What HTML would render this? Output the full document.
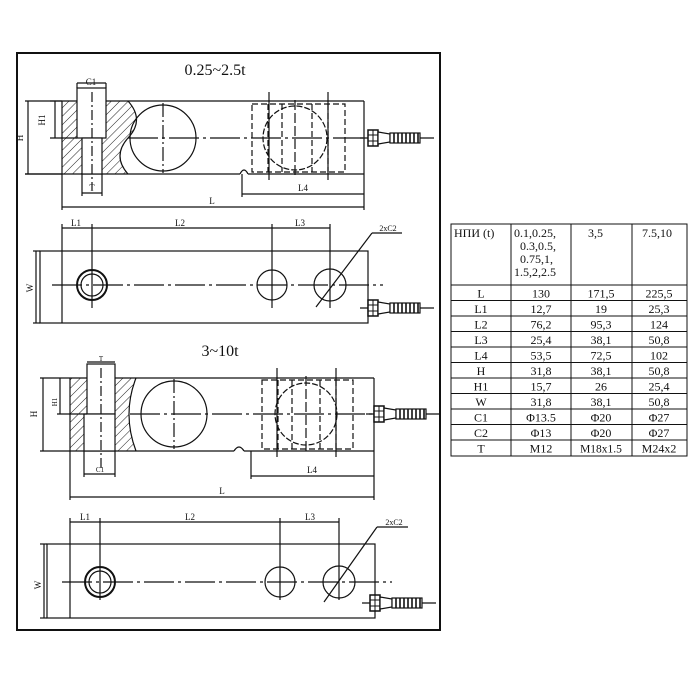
<!DOCTYPE html>
<html><head><meta charset="utf-8"><style>
html,body{margin:0;padding:0;background:#fff}
svg{display:block}
text{font-family:"Liberation Serif",serif;fill:#111}
</style></head><body>
<svg width="700" height="700" viewBox="0 0 700 700" xmlns="http://www.w3.org/2000/svg">
<defs>
<pattern id="h" width="6" height="6" patternUnits="userSpaceOnUse" patternTransform="rotate(45)">
<line x1="0" y1="0" x2="0" y2="6" stroke="#222" stroke-width="1"/>
</pattern>
<g id="conn">
<line x1="-8" y1="0" x2="66" y2="0" stroke="#111" stroke-width="1.2"/>
<rect x="0" y="-8" width="10" height="16" fill="#fff" stroke="#111" stroke-width="1.5"/>
<line x1="0" y1="-3" x2="10" y2="-3" stroke="#111"/><line x1="0" y1="3" x2="10" y2="3" stroke="#111"/>
<line x1="5" y1="-8" x2="5" y2="8" stroke="#111"/>
<path d="M10,-6 L22,-4 L22,4 L10,6Z" fill="#fff" stroke="#111" stroke-width="1.2"/>
<rect x="22" y="-5" width="30" height="10" fill="#fff" stroke="#111" stroke-width="1.2"/>
<g stroke="#111" stroke-width="1.6"><line x1="26" y1="-5" x2="26" y2="5"/><line x1="30" y1="-5" x2="30" y2="5"/><line x1="34" y1="-5" x2="34" y2="5"/><line x1="38" y1="-5" x2="38" y2="5"/><line x1="42" y1="-5" x2="42" y2="5"/><line x1="46" y1="-5" x2="46" y2="5"/><line x1="50" y1="-5" x2="50" y2="5"/></g>
</g>
</defs>
<rect x="17" y="53" width="423" height="577" fill="none" stroke="#111" stroke-width="2"/>

<g stroke="#111" stroke-width="1.2" fill="none">
<!-- SECTION 1 side view -->
<text x="215" y="75" font-size="16" text-anchor="middle" stroke="none">0.25~2.5t</text>
<path d="M62,101 H128 Q145,120 128,138 Q112,156 128,174 H62Z" fill="url(#h)" stroke="none"/>
<line x1="25" y1="101" x2="364" y2="101"/>
<line x1="25" y1="174" x2="240" y2="174"/>
<path d="M240,174 q4,-8 8,0"/>
<line x1="248" y1="174" x2="364" y2="174"/>
<line x1="364" y1="101" x2="364" y2="174"/>
<line x1="62" y1="101" x2="62" y2="174"/>
<path d="M128,101 Q145,120 128,138 Q112,156 128,174"/>
<rect x="77" y="88" width="29" height="50" fill="#fff"/>
<rect x="82" y="138" width="20" height="36" fill="#fff"/>
<line x1="82" y1="174" x2="82" y2="196"/><line x1="102" y1="174" x2="102" y2="196"/>
<line x1="77" y1="83" x2="106" y2="83"/><line x1="77" y1="83" x2="77" y2="88"/><line x1="106" y1="83" x2="106" y2="88"/>
<line x1="82" y1="193" x2="102" y2="193"/>
<line x1="92" y1="92" x2="92" y2="190" stroke-dasharray="10,3,2,3"/>
<line x1="55" y1="101" x2="55" y2="138"/><line x1="50" y1="101" x2="62" y2="101"/><line x1="50" y1="138" x2="77" y2="138"/>
<line x1="28" y1="101" x2="28" y2="174"/><line x1="25" y1="174" x2="62" y2="174"/>
<line x1="62" y1="174" x2="62" y2="210"/>
<circle cx="163" cy="138" r="33"/>
<line x1="163" y1="103" x2="163" y2="173" stroke-dasharray="14,3,2,3"/>
<line x1="128" y1="138" x2="364" y2="138" stroke-dasharray="30,4,3,4"/>
<circle cx="295" cy="138" r="32" stroke-dasharray="6,2"/>
<g stroke-dasharray="6,3"><rect x="252" y="104" width="93" height="68"/><line x1="268" y1="104" x2="268" y2="172"/><line x1="282" y1="104" x2="282" y2="172"/><line x1="312" y1="104" x2="312" y2="172"/><line x1="328" y1="104" x2="328" y2="172"/></g>
<line x1="269" y1="92" x2="269" y2="180"/><line x1="328" y1="92" x2="328" y2="180"/>
<line x1="295" y1="100" x2="295" y2="178" stroke-dasharray="10,3"/>
<line x1="242" y1="174" x2="242" y2="197"/><line x1="364" y1="174" x2="364" y2="210"/>
<line x1="242" y1="194" x2="364" y2="194"/>
<line x1="62" y1="207" x2="364" y2="207"/>
<!-- plan view 1 -->
<rect x="40" y="251" width="328" height="72"/>
<line x1="62" y1="224" x2="62" y2="323"/>
<line x1="92" y1="224" x2="92" y2="308"/>
<line x1="272" y1="224" x2="272" y2="308"/>
<line x1="330" y1="224" x2="330" y2="308"/>
<line x1="62" y1="228" x2="330" y2="228"/>
<line x1="33" y1="251" x2="40" y2="251"/><line x1="33" y1="323" x2="40" y2="323"/><line x1="36" y1="251" x2="36" y2="323"/>
<line x1="52" y1="285" x2="383" y2="285" stroke-dasharray="30,4,3,4"/>
<circle cx="92" cy="285" r="15" stroke-width="2"/><circle cx="92" cy="285" r="11"/>
<circle cx="272" cy="285" r="15"/>
<circle cx="330" cy="285" r="16"/>
<line x1="316" y1="307" x2="372" y2="233"/><line x1="372" y1="233" x2="402" y2="233"/>
</g>
<g font-size="9" stroke="none">
<text x="91" y="85" text-anchor="middle">C1</text>
<text x="92" y="191" text-anchor="middle">T</text>
<text x="45" y="120" transform="rotate(-90 45 120)" text-anchor="middle">H1</text>
<text x="23" y="138" transform="rotate(-90 23 138)" text-anchor="middle">H</text>
<text x="303" y="191" text-anchor="middle">L4</text>
<text x="212" y="204" text-anchor="middle">L</text>
<text x="76" y="226" text-anchor="middle">L1</text>
<text x="180" y="226" text-anchor="middle">L2</text>
<text x="300" y="226" text-anchor="middle">L3</text>
<text x="388" y="231" text-anchor="middle" font-size="8">2xC2</text>
<text x="33" y="288" transform="rotate(-90 33 288)" text-anchor="middle">W</text>
</g>
<use href="#conn" x="368" y="138"/>
<use href="#conn" x="368" y="308"/>

<!-- SECTION 2 -->
<g stroke="#111" stroke-width="1.2" fill="none">
<text x="220" y="356" font-size="16" text-anchor="middle" stroke="none">3~10t</text>
<path d="M70,378 H136 Q122,414 136,451 H70Z" fill="url(#h)" stroke="none"/>
<line x1="40" y1="378" x2="374" y2="378"/>
<line x1="40" y1="451" x2="234" y2="451"/>
<path d="M234,451 q5,-8 10,0"/>
<line x1="244" y1="451" x2="374" y2="451"/>
<line x1="374" y1="378" x2="374" y2="451"/>
<line x1="70" y1="378" x2="70" y2="500"/>
<path d="M136,378 Q122,414 136,451"/>
<rect x="87" y="364" width="28" height="50" fill="#fff"/>
<rect x="84" y="414" width="31" height="37" fill="#fff"/>
<line x1="84" y1="451" x2="84" y2="477"/><line x1="115" y1="451" x2="115" y2="477"/>
<line x1="87" y1="362" x2="115" y2="362"/>
<line x1="84" y1="474" x2="115" y2="474"/>
<line x1="101" y1="368" x2="101" y2="470" stroke-dasharray="10,3,2,3"/>
<line x1="60" y1="378" x2="60" y2="414"/><line x1="57" y1="414" x2="87" y2="414"/>
<line x1="43" y1="378" x2="43" y2="451"/>
<circle cx="174" cy="414" r="33"/>
<line x1="174" y1="379" x2="174" y2="449" stroke-dasharray="14,3,2,3"/>
<line x1="130" y1="414" x2="374" y2="414" stroke-dasharray="30,4,3,4"/>
<circle cx="306" cy="414" r="31" stroke-dasharray="6,2"/>
<g stroke-dasharray="6,3"><rect x="262" y="380" width="91" height="69"/><line x1="278" y1="380" x2="278" y2="449"/><line x1="292" y1="380" x2="292" y2="449"/><line x1="320" y1="380" x2="320" y2="449"/><line x1="336" y1="380" x2="336" y2="449"/></g>
<line x1="277" y1="368" x2="277" y2="457"/><line x1="336" y1="368" x2="336" y2="457"/>
<line x1="306" y1="376" x2="306" y2="452" stroke-dasharray="10,3"/>
<line x1="251" y1="451" x2="251" y2="479"/><line x1="374" y1="451" x2="374" y2="500"/>
<line x1="251" y1="476" x2="374" y2="476"/>
<line x1="70" y1="497" x2="374" y2="497"/>
<!-- plan view 2 -->
<rect x="47" y="544" width="328" height="74"/>
<line x1="70" y1="518" x2="70" y2="618"/>
<line x1="100" y1="518" x2="100" y2="600"/>
<line x1="280" y1="518" x2="280" y2="600"/>
<line x1="339" y1="518" x2="339" y2="600"/>
<line x1="70" y1="522" x2="339" y2="522"/>
<line x1="40" y1="544" x2="47" y2="544"/><line x1="40" y1="618" x2="47" y2="618"/><line x1="44" y1="544" x2="44" y2="618"/>
<line x1="62" y1="582" x2="392" y2="582" stroke-dasharray="30,4,3,4"/>
<circle cx="100" cy="582" r="15" stroke-width="2"/><circle cx="100" cy="582" r="11"/>
<circle cx="280" cy="582" r="15"/>
<circle cx="339" cy="582" r="16"/>
<line x1="324" y1="602" x2="377" y2="527"/><line x1="377" y1="527" x2="408" y2="527"/>
</g>
<g font-size="9" stroke="none">
<text x="101" y="361" text-anchor="middle" font-size="7">T</text>
<text x="100" y="472" text-anchor="middle" font-size="7">C1</text>
<text x="57" y="402" transform="rotate(-90 57 402)" text-anchor="middle" font-size="7">H1</text>
<text x="37" y="414" transform="rotate(-90 37 414)" text-anchor="middle">H</text>
<text x="312" y="473" text-anchor="middle">L4</text>
<text x="222" y="494" text-anchor="middle">L</text>
<text x="85" y="520" text-anchor="middle">L1</text>
<text x="190" y="520" text-anchor="middle">L2</text>
<text x="310" y="520" text-anchor="middle">L3</text>
<text x="394" y="525" text-anchor="middle" font-size="8">2xC2</text>
<text x="41" y="585" transform="rotate(-90 41 585)" text-anchor="middle">W</text>
</g>
<use href="#conn" x="374" y="414"/>
<use href="#conn" x="370" y="603"/>

<!-- TABLE -->
<g stroke="#111" stroke-width="1" fill="none">
<rect x="451" y="224" width="236" height="232"/>
<line x1="511" y1="224" x2="511" y2="456"/>
<line x1="571" y1="224" x2="571" y2="456"/>
<line x1="632" y1="224" x2="632" y2="456"/>
<line x1="451" y1="285" x2="687" y2="285"/>
<line x1="451" y1="300.5" x2="687" y2="300.5"/>
<line x1="451" y1="316" x2="687" y2="316"/>
<line x1="451" y1="331.5" x2="687" y2="331.5"/>
<line x1="451" y1="347" x2="687" y2="347"/>
<line x1="451" y1="362.5" x2="687" y2="362.5"/>
<line x1="451" y1="378" x2="687" y2="378"/>
<line x1="451" y1="393.5" x2="687" y2="393.5"/>
<line x1="451" y1="409" x2="687" y2="409"/>
<line x1="451" y1="424.5" x2="687" y2="424.5"/>
<line x1="451" y1="440" x2="687" y2="440"/>
</g>
<g font-size="12" stroke="none">
<text x="454" y="237">НПИ (t)</text>
<text x="514" y="237">0.1,0.25,</text>
<text x="520" y="250">0.3,0.5,</text>
<text x="520" y="263">0.75,1,</text>
<text x="514" y="276">1.5,2,2.5</text>
<text x="588" y="237">3,5</text>
<text x="642" y="237">7.5,10</text>
<g text-anchor="middle">
<text x="481" y="297.5">L</text><text x="541" y="297.5">130</text><text x="601" y="297.5">171,5</text><text x="659" y="297.5">225,5</text>
<text x="481" y="313">L1</text><text x="541" y="313">12,7</text><text x="601" y="313">19</text><text x="659" y="313">25,3</text>
<text x="481" y="328.5">L2</text><text x="541" y="328.5">76,2</text><text x="601" y="328.5">95,3</text><text x="659" y="328.5">124</text>
<text x="481" y="344">L3</text><text x="541" y="344">25,4</text><text x="601" y="344">38,1</text><text x="659" y="344">50,8</text>
<text x="481" y="359.5">L4</text><text x="541" y="359.5">53,5</text><text x="601" y="359.5">72,5</text><text x="659" y="359.5">102</text>
<text x="481" y="375">H</text><text x="541" y="375">31,8</text><text x="601" y="375">38,1</text><text x="659" y="375">50,8</text>
<text x="481" y="390.5">H1</text><text x="541" y="390.5">15,7</text><text x="601" y="390.5">26</text><text x="659" y="390.5">25,4</text>
<text x="481" y="406">W</text><text x="541" y="406">31,8</text><text x="601" y="406">38,1</text><text x="659" y="406">50,8</text>
<text x="481" y="421.5">C1</text><text x="541" y="421.5">Φ13.5</text><text x="601" y="421.5">Φ20</text><text x="659" y="421.5">Φ27</text>
<text x="481" y="437">C2</text><text x="541" y="437">Φ13</text><text x="601" y="437">Φ20</text><text x="659" y="437">Φ27</text>
<text x="481" y="452.5">T</text><text x="541" y="452.5">M12</text><text x="601" y="452.5" font-size="11.5">M18x1.5</text><text x="659" y="452.5">M24x2</text>
</g>
</g>
</svg>
</body></html>
